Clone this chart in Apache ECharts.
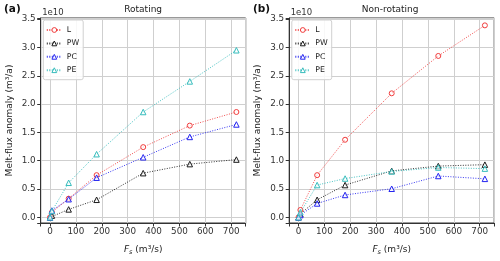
<!DOCTYPE html>
<html><head><meta charset="utf-8">
<script src="https://cdn.jsdelivr.net/npm/echarts@6/dist/echarts.min.js"></script>
<style>html,body{margin:0;padding:0;background:#fff}#c{width:500px;height:261px}</style>
</head><body><div id="c"></div>
<script>
// Freshwater flux F_s (m3/s)
const fs = [0, 7.2, 72, 180, 360, 540, 720];
// Melt-flux anomaly, in units of 1e10 m3/a
// (a) Rotating
const rotL  = [0, 0.09, 0.33, 0.745, 1.24, 1.62, 1.86];
const rotPW = [0, 0.03, 0.14, 0.31, 0.78, 0.94, 1.02];
const rotPC = [0, 0.12, 0.32, 0.70, 1.06, 1.42, 1.64];
const rotPE = [0, 0.11, 0.61, 1.115, 1.86, 2.40, 2.95];
// (b) Non-rotating
const nonL  = [0, 0.13, 0.745, 1.37, 2.19, 2.85, 3.39];
const nonPW = [0, 0.06, 0.31, 0.57, 0.82, 0.905, 0.93];
const nonPC = [0, 0.04, 0.245, 0.395, 0.505, 0.73, 0.68];
const nonPE = [0, 0.09, 0.57, 0.685, 0.81, 0.88, 0.86];
const seriesNames = ['L', 'PW', 'PC', 'PE'];
const panelTitles = ['Rotating', 'Non-rotating'];
const panelLetters = ['(a)', '(b)'];
const xTicks = [0, 100, 200, 300, 400, 500, 600, 700];
const yTicks = [0.0, 0.5, 1.0, 1.5, 2.0, 2.5, 3.0, 3.5];

const FONT = 'DejaVu Sans';
const colors = {L: '#f03c3c', PW: '#1a1a1a', PC: '#2424f0', PE: '#36bcbc'};
const symbols = {L: 'circle', PW: 'triangle', PC: 'triangle', PE: 'triangle'};
const panels = [[rotL, rotPW, rotPC, rotPE], [nonL, nonPW, nonPC, nonPE]];
const gridLeft = [40.7, 289.2];
const gridW = 205, gridTop = 18, gridH = 208;

function near(v, ticks){ return ticks.some(t => Math.abs(t - v) < 1e-6); }

const grids = [], xAxes = [], yAxes = [], series = [], legends = [], graphics = [];
panels.forEach((p, gi) => {
  grids.push({left: gridLeft[gi], top: gridTop, width: gridW, height: gridH,
    show: true, borderColor: '#333', borderWidth: 1, backgroundColor: 'transparent'});
  xAxes.push({type: 'value', gridIndex: gi, min: -36, max: 756, splitNumber: 8,
    name: '{i|F}{sub|s} (m³/s)', nameLocation: 'middle', nameGap: 21,
    nameTextStyle: {fontFamily: FONT, fontSize: 9, color: '#222',
      rich: {i: {fontFamily: FONT, fontStyle: 'italic', fontSize: 9, color: '#222'},
             sub: {fontFamily: FONT, fontStyle: 'italic', fontSize: 6.5, color: '#222', padding: [5, 0, 0, 0]}}},
    axisLine: {show: true, onZero: false, lineStyle: {color: '#333', width: 1}},
    axisTick: {show: true, length: 3.5, lineStyle: {color: '#333'}},
    axisLabel: {fontFamily: FONT, fontSize: 8.8, color: '#333', margin: 4,
      formatter: v => near(v, xTicks) ? String(Math.round(v)) : ''},
    splitLine: {show: true, lineStyle: {color: '#cfcfcf', width: 1}}});
  yAxes.push({type: 'value', gridIndex: gi, min: -0.1, max: 3.52, splitNumber: 7,
    name: 'Melt-flux anomaly (m³/a)', nameLocation: 'middle', nameGap: 27,
    nameTextStyle: {fontFamily: FONT, fontSize: 9, color: '#222'},
    axisLine: {show: true, onZero: false, lineStyle: {color: '#333', width: 1}},
    axisTick: {show: true, length: 3.5, lineStyle: {color: '#333'}},
    axisLabel: {fontFamily: FONT, fontSize: 8.8, color: '#333', margin: 5,
      formatter: v => near(v, yTicks) ? v.toFixed(1) : ''},
    splitLine: {show: true, lineStyle: {color: '#cfcfcf', width: 1}}});
  p.forEach((vals, si) => {
    const nm = seriesNames[si];
    series.push({type: 'line', name: nm, xAxisIndex: gi, yAxisIndex: gi,
      data: fs.map((x, k) => [x, vals[k]]),
      symbol: symbols[nm], symbolSize: nm === 'L' ? 5 : 5.5, showAllSymbol: true,
      lineStyle: {color: colors[nm], width: 1, type: [1, 1.5], opacity: 0.9},
      itemStyle: {color: 'rgba(255,255,255,0.6)', borderColor: colors[nm], borderWidth: 1},
      emphasis: {disabled: true}, animation: false, z: 2 + si});
  });
  legends.push({data: seriesNames, orient: 'vertical', left: gridLeft[gi] + 2.6, top: 20,
    itemWidth: 15, itemHeight: 6, itemGap: 5.4, padding: [6, 4, 5.5, 2.5],
    itemStyle: {color: '#ffffff', borderWidth: 1},
    backgroundColor: 'rgba(255,255,255,0.85)', borderColor: '#d0d0d0', borderWidth: 1, borderRadius: 2,
    textStyle: {fontFamily: FONT, fontSize: 7.8, color: '#222'}, selectedMode: false});
  graphics.push({type: 'text', left: gridLeft[gi] + gridW / 2 - (gi ? 30 : 19), top: 5,
    style: {text: panelTitles[gi], font: '9px ' + FONT, fill: '#222'}});
  graphics.push({type: 'text', left: gi ? 253 : 4, top: 4,
    style: {text: panelLetters[gi], font: 'bold 10.5px ' + FONT, fill: '#111'}});
  graphics.push({type: 'text', left: gridLeft[gi] + 1.5, top: 8,
    style: {text: '1e10', font: '8.5px ' + FONT, fill: '#333'}});
});

const chart = echarts.init(document.getElementById('c'), null, {renderer: 'canvas'});
chart.setOption({animation: false, grid: grids, xAxis: xAxes, yAxis: yAxes,
  series: series, legend: legends, graphic: graphics});
</script></body></html>
